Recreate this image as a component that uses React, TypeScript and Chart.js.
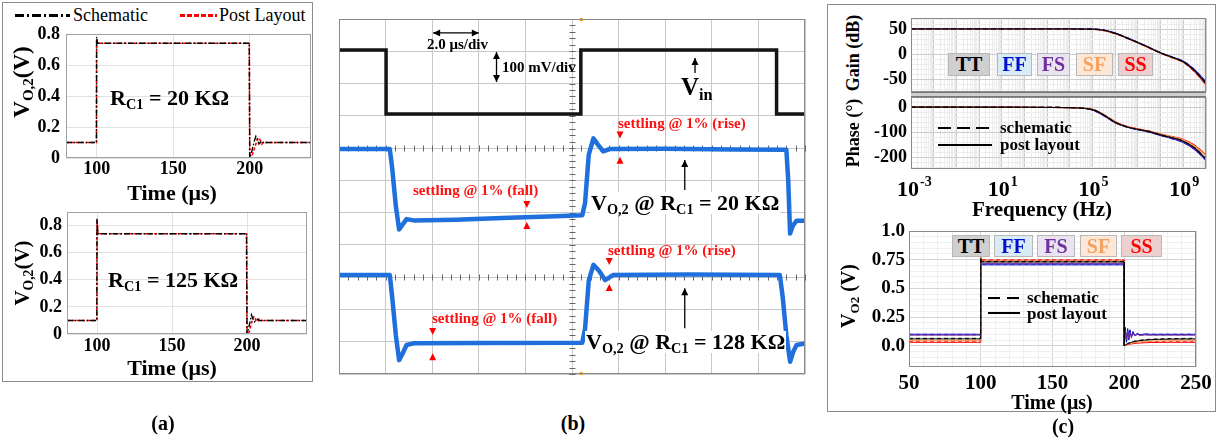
import React, { useEffect, useRef } from 'react';
import { Chart, registerables } from 'chart.js';

Chart.register(...registerables);

const SERIF = '"Liberation Serif", "Times New Roman", serif';

// ---------------- Panel (a) data ----------------
const A_TIME = [80, 99.9, 100, 100.6, 101.5, 199.7, 200, 201, 202, 203, 204, 205, 206, 207, 208, 209, 210, 212, 215, 240];
const A1_SCHEMATIC = [0.1, 0.1, 0.78, 0.74, 0.74, 0.74, 0.0, 0.03, 0.07, 0.11, 0.14, 0.12, 0.09, 0.1, 0.11, 0.1, 0.1, 0.1, 0.1, 0.1];
const A1_POSTLAYOUT = [0.1, 0.1, 0.77, 0.74, 0.74, 0.74, 0.0, 0.0, 0.03, 0.06, 0.09, 0.12, 0.13, 0.11, 0.09, 0.105, 0.1, 0.1, 0.1, 0.1];
const A2_SCHEMATIC = [0.1, 0.1, 0.85, 0.74, 0.74, 0.74, 0.0, 0.04, 0.09, 0.14, 0.11, 0.09, 0.1, 0.11, 0.1, 0.1, 0.1, 0.1, 0.1, 0.1];
const A2_POSTLAYOUT = [0.1, 0.1, 0.84, 0.74, 0.74, 0.74, 0.0, 0.0, 0.04, 0.08, 0.12, 0.13, 0.1, 0.09, 0.11, 0.1, 0.1, 0.1, 0.1, 0.1];
const A_X_TICKS = [100, 150, 200];
const A_Y_TICKS = [0, 0.2, 0.4, 0.6, 0.8];

// ---------------- Panel (b) oscilloscope data (divisions) ----------------
const VIN_X = [0, 1.01, 1.01, 5.19, 5.19, 9.39, 9.39, 10];
const VIN_Y = [10.04, 10.04, 8.06, 8.06, 10.04, 10.04, 8.06, 8.06];
const VO_20K_X = [0, 1.09, 1.14, 1.22, 1.29, 1.36, 1.45, 1.6, 2.5, 3.5, 4.5, 5.22, 5.28, 5.36, 5.46, 5.56, 5.67, 5.8, 7, 8.5, 9.6, 9.64, 9.68, 9.74, 9.82, 10];
const VO_20K_Y = [6.97, 6.97, 6.4, 5.2, 4.48, 4.62, 4.8, 4.76, 4.78, 4.83, 4.88, 4.92, 5.3, 6.8, 7.3, 7.1, 6.9, 6.97, 6.98, 6.96, 6.95, 6.0, 4.35, 4.6, 4.75, 4.75];
const VO_128K_X = [0, 1.09, 1.14, 1.22, 1.29, 1.36, 1.45, 1.6, 3, 5.22, 5.28, 5.36, 5.46, 5.58, 5.71, 5.89, 7.5, 9.46, 9.52, 9.6, 9.68, 9.75, 9.82, 10];
const VO_128K_Y = [3.07, 3.07, 2.4, 1.2, 0.43, 0.62, 0.9, 0.95, 0.96, 0.97, 1.4, 2.9, 3.38, 3.2, 2.91, 3.07, 3.08, 3.07, 2.4, 1.2, 0.38, 0.7, 0.9, 0.95];

// annotations in division coordinates
const SCOPE_ARROWS: [number, number, number, number, boolean][] = [
  [2.02, 10.57, 3.0, 10.57, true],
  [3.38, 9.98, 3.38, 9.05, true],
  [7.64, 9.33, 7.64, 9.79, false],
  [7.42, 5.7, 7.42, 6.63, false],
  [7.42, 1.42, 7.42, 2.66, false],
];
const SCOPE_MARKS: [number, number, string][] = [
  [6.03, 7.3, 'down'], [6.03, 6.73, 'up'],
  [4.03, 5.14, 'down'], [4.03, 4.71, 'up'],
  [5.8, 3.38, 'down'], [5.8, 2.79, 'up'],
  [2.01, 1.21, 'down'], [2.01, 0.64, 'up'],
];
const SCOPE_TICK_ROWS = [7, 3];

// ---------------- Panel (c) Bode data ----------------
const BODE_FREQ = [1e-3, 1e2, 1e4, 1e5, 3.2e5, 1e6, 3.2e6, 1e7, 3.2e7, 1e8, 3.2e8, 1e9, 3.2e9, 1e10];
const GAIN_TT = [50, 50, 50, 49.8, 47.5, 41.5, 32.5, 23, 13, 2.5, -6, -15, -33, -58];
const GAIN_FF = [50.5, 50.5, 50.5, 50.2, 48, 42, 33, 23.5, 13.5, 3, -5.5, -14, -31, -55];
const GAIN_FS = [50, 50, 50, 49.9, 47.8, 41.8, 33, 23.3, 13.3, 2.8, -6, -15.5, -34, -59];
const GAIN_SF = [49.8, 49.8, 49.8, 49.6, 47.3, 41.3, 32.3, 22.8, 12.8, 2.3, -6.3, -15.3, -33.5, -59];
const GAIN_SS = [49.5, 49.5, 49.5, 49.3, 47, 41, 32, 22.5, 12.5, 2, -6.8, -16, -35, -61];
const PHASE_TT = [0, -0.3, -2, -10, -32, -60, -78, -88, -97, -110, -121, -135, -162, -205];
const PHASE_FF = [0, -0.3, -2, -11, -34, -62, -79, -89, -99, -112, -125, -140, -168, -210];
const PHASE_FS = [0, -0.3, -2, -11, -33, -61, -79, -89, -98, -111, -123, -138, -166, -207];
const PHASE_SF = [0, -0.3, -2, -9, -30, -58, -77, -87, -96, -108, -118, -130, -155, -192];
const PHASE_SS = [0, -0.3, -2, -9, -30, -58, -76, -86, -95, -107, -117, -128, -152, -190];
const FREQ_LABELS = [1e-3, 1e1, 1e5, 1e9];
const FREQ_EXP = ['-3', '1', '5', '9'];
const GAIN_GRID = [-70, -60, -50, -40, -30, -20, -10, 0, 10, 20, 30, 40, 50, 60, 70];
const GAIN_LABELS = [50, 0, -50];
const PHASE_GRID = [-240, -220, -200, -180, -160, -140, -120, -100, -80, -60, -40, -20, 0, 20, 40];
const PHASE_LABELS = [0, -100, -200];

// ---------------- Panel (c) transient data ----------------
const T_C = [50, 99.9, 100, 100.4, 101, 199.9, 200, 200.8, 201.6, 202.4, 203.2, 204, 205, 206, 207.5, 209, 211, 214, 218, 224, 232, 250];
const TR_FF_POST = [0.1, 0.1, 0.74, 0.705, 0.705, 0.705, 0.0, 0.16, 0.03, 0.15, 0.05, 0.14, 0.07, 0.125, 0.085, 0.11, 0.095, 0.103, 0.1, 0.1, 0.1, 0.1];
const TR_FS_POST = [0.093, 0.093, 0.75, 0.715, 0.715, 0.715, 0.0, 0.12, 0.05, 0.13, 0.06, 0.12, 0.075, 0.11, 0.085, 0.1, 0.09, 0.094, 0.093, 0.093, 0.093, 0.093];
const TR_TT_POST = [0.06, 0.06, 0.76, 0.73, 0.73, 0.73, 0.0, 0.006, 0.012, 0.017, 0.021, 0.025, 0.029, 0.033, 0.037, 0.041, 0.045, 0.049, 0.053, 0.056, 0.058, 0.06];
const TR_SF_POST = [0.045, 0.045, 0.77, 0.738, 0.738, 0.738, 0.0, 0.005, 0.009, 0.013, 0.016, 0.019, 0.022, 0.025, 0.028, 0.031, 0.034, 0.037, 0.04, 0.042, 0.044, 0.045];
const TR_SS_POST = [0.03, 0.03, 0.78, 0.745, 0.745, 0.745, 0.0, 0.004, 0.007, 0.01, 0.012, 0.014, 0.016, 0.018, 0.02, 0.022, 0.024, 0.026, 0.028, 0.029, 0.03, 0.03];
const TR_FF_SCH = [0.1, 0.1, 0.73, 0.712, 0.712, 0.712, 0.0, 0.15, 0.04, 0.14, 0.06, 0.13, 0.08, 0.12, 0.09, 0.105, 0.097, 0.101, 0.1, 0.1, 0.1, 0.1];
const TR_FS_SCH = [0.095, 0.095, 0.745, 0.72, 0.72, 0.72, 0.0, 0.13, 0.05, 0.12, 0.07, 0.115, 0.08, 0.105, 0.09, 0.098, 0.094, 0.096, 0.095, 0.095, 0.095, 0.095];
const TR_TT_SCH = [0.065, 0.065, 0.765, 0.735, 0.735, 0.735, 0.0, 0.007, 0.014, 0.02, 0.025, 0.029, 0.033, 0.037, 0.041, 0.045, 0.049, 0.053, 0.057, 0.06, 0.063, 0.065];
const TR_SF_SCH = [0.055, 0.055, 0.77, 0.742, 0.742, 0.742, 0.0, 0.006, 0.011, 0.016, 0.02, 0.024, 0.027, 0.031, 0.035, 0.038, 0.042, 0.045, 0.049, 0.052, 0.054, 0.055];
const TR_SS_SCH = [0.04, 0.04, 0.78, 0.748, 0.748, 0.748, 0.0, 0.005, 0.009, 0.013, 0.016, 0.019, 0.021, 0.024, 0.027, 0.03, 0.032, 0.034, 0.036, 0.038, 0.039, 0.04];
const TR_X_GRID = [50, 60, 70, 80, 90, 100, 110, 120, 130, 140, 150, 160, 170, 180, 190, 200, 210, 220, 230, 240, 250];
const TR_X_LABELS = [50, 100, 150, 200, 250];
const TR_Y_GRID = [-0.15, -0.1, -0.05, 0, 0.05, 0.1, 0.15, 0.2, 0.25, 0.3, 0.35, 0.4, 0.45, 0.5, 0.55, 0.6, 0.65, 0.7, 0.75, 0.8, 0.85, 0.9, 0.95, 1.0];
const TR_Y_LABELS: [number, string][] = [[0, '0.0'], [0.25, '0.25'], [0.5, '0.5'], [0.75, '0.75'], [1.0, '1.0']];

const CORNER_COLORS: Record<string, string> = { TT: '#000000', FF: '#0010d0', FS: '#7030a0', SF: '#f4a060', SS: '#ff0000' };

// ---------------- helpers ----------------
type Box = { l: number; t: number; r: number; b: number };

function xy(xs: number[], ys: number[]) {
  return xs.map((x, i) => ({ x, y: ys[i] }));
}

function near(a: number, b: number) {
  return Math.abs(a - b) < 1e-6;
}

const framePlugin = (color: string) => ({
  id: 'frame',
  afterDraw(chart: any) {
    const { left, top, right, bottom } = chart.chartArea;
    const ctx = chart.ctx;
    ctx.save();
    ctx.strokeStyle = color;
    ctx.lineWidth = 1;
    const l = Math.round(left) + 0.5, t = Math.round(top) + 0.5;
    const r = Math.round(right) - 0.5, b = Math.round(bottom) - 0.5;
    ctx.strokeRect(l, t, r - l, b - t);
    ctx.restore();
  },
});

function makeConfig(canvas: Box, plot: Box, datasets: any[], xOpt: any, yOpt: any, plugins: any[]) {
  return {
    type: 'line',
    data: { datasets },
    options: {
      animation: false,
      responsive: false,
      devicePixelRatio: 1,
      layout: { padding: { left: 0, top: plot.t - canvas.t, right: canvas.r - plot.r, bottom: 0 } },
      plugins: { legend: { display: false }, tooltip: { enabled: false } },
      elements: { point: { radius: 0 }, line: { tension: 0 } },
      scales: {
        x: {
          ...xOpt,
          afterFit: (s: any) => { s.height = canvas.b - plot.b; s.paddingLeft = 0; s.paddingRight = 0; },
        },
        y: {
          ...yOpt,
          afterFit: (s: any) => { s.width = plot.l - canvas.l; s.paddingTop = 0; s.paddingBottom = 0; },
        },
      },
    },
    plugins,
  } as any;
}

function ChartView({ canvas, make }: { canvas: Box; make: () => any }) {
  const ref = useRef<HTMLCanvasElement>(null);
  useEffect(() => {
    const c = new Chart(ref.current as HTMLCanvasElement, make());
    return () => c.destroy();
  }, []);
  const w = canvas.r - canvas.l, h = canvas.b - canvas.t;
  return (
    <canvas ref={ref} width={w} height={h}
      style={{ position: 'absolute', left: canvas.l, top: canvas.t, width: w, height: h }} />
  );
}

function Txt({ x, y, size, children, color = '#000', weight = 'bold', anchor = 'left', bg, rotate }: any) {
  const tx = anchor === 'center' ? '-50%' : '0';
  return (
    <div style={{
      position: 'absolute', left: x, top: y,
      transform: `translate(${tx}, -50%)${rotate ? ' rotate(-90deg)' : ''}`,
      fontFamily: SERIF, fontSize: size, fontWeight: weight, color, whiteSpace: 'nowrap',
      lineHeight: 1, background: bg, padding: bg ? '0 1px' : 0,
    }}>{children}</div>
  );
}

const Sub = ({ children }: any) => (
  <span style={{ fontSize: '0.65em', position: 'relative', top: '0.3em' }}>{children}</span>
);

function PatternLine({ x, y, width, pattern, color, thick }: any) {
  const segs: any[] = [];
  let pos = 0, i = 0;
  while (pos < width) {
    const len = pattern[i % pattern.length];
    if (i % 2 === 0) {
      segs.push(<div key={i} style={{ position: 'absolute', left: x + pos, top: y - thick / 2, width: Math.min(len, width - pos), height: thick, background: color }} />);
    }
    pos += len;
    i++;
  }
  return <>{segs}</>;
}

function CornerBoxes({ y, h, boxes, size }: any) {
  const bg: Record<string, string> = { TT: '#cfcfcf', FF: '#d9ecf6', FS: '#e9e4f0', SF: '#fde7d6', SS: '#eccfcf' };
  return (
    <>
      {boxes.map(([name, l, r]: any) => (
        <div key={name} style={{
          position: 'absolute', left: l, top: y, width: r - l, height: h, boxSizing: 'border-box',
          background: bg[name], border: '1px solid #b8b8b8', display: 'flex', alignItems: 'center',
          justifyContent: 'center', fontFamily: SERIF, fontWeight: 'bold', fontSize: size,
          color: CORNER_COLORS[name],
        }}>{name}</div>
      ))}
    </>
  );
}

// ---------------- chart builders ----------------
const tickFont = (size: number) => ({ family: SERIF, weight: 'bold' as const, size });

function panelAConfig(canvas: Box, plot: Box, sch: number[], post: number[], ymax: number, xPad: number, yPad: number) {
  const datasets = [
    { data: xy(A_TIME, sch), borderColor: '#000', borderWidth: 1.4, borderDash: [6, 2, 1.5, 2] },
    { data: xy(A_TIME, post), borderColor: '#ff0000', borderWidth: 1.6, borderDash: [3, 2] },
  ];
  return makeConfig(canvas, plot, datasets,
    {
      type: 'linear', min: 80, max: 240,
      afterBuildTicks: (s: any) => { s.ticks = A_X_TICKS.map((v) => ({ value: v })); },
      ticks: { font: tickFont(18), color: '#000', padding: xPad, maxRotation: 0, autoSkip: false },
      grid: { color: '#e2e2e2', drawTicks: false }, border: { display: false },
    },
    {
      type: 'linear', min: 0, max: ymax,
      afterBuildTicks: (s: any) => { s.ticks = A_Y_TICKS.map((v) => ({ value: v })); },
      ticks: { font: tickFont(18), color: '#000', padding: yPad, autoSkip: false, callback: (v: number) => String(Math.round(v * 10) / 10) },
      grid: { color: '#e2e2e2', drawTicks: false }, border: { display: false },
    },
    [framePlugin('#a0a0a0')]);
}

function arrowHead(ctx: any, x: number, y: number, ang: number) {
  ctx.beginPath();
  ctx.moveTo(x, y);
  ctx.lineTo(x - 7 * Math.cos(ang) + 3.5 * Math.sin(ang), y - 7 * Math.sin(ang) - 3.5 * Math.cos(ang));
  ctx.lineTo(x - 7 * Math.cos(ang) - 3.5 * Math.sin(ang), y - 7 * Math.sin(ang) + 3.5 * Math.cos(ang));
  ctx.closePath();
  ctx.fill();
}

const scopePlugin = {
  id: 'scopeDecor',
  beforeDatasetsDraw(chart: any) {
    const { ctx, scales: { x, y } } = chart;
    ctx.save();
    ctx.strokeStyle = '#666';
    ctx.lineWidth = 1;
    const cx = Math.round(x.getPixelForValue(5)) + 0.5;
    for (let k = 0; k <= 55; k++) {
      const py = Math.round(y.getPixelForValue(k * 0.2)) + 0.5;
      ctx.beginPath(); ctx.moveTo(cx - 3, py); ctx.lineTo(cx + 3, py); ctx.stroke();
    }
    SCOPE_TICK_ROWS.forEach((row) => {
      const py = Math.round(y.getPixelForValue(row)) + 0.5;
      for (let k = 0; k <= 50; k++) {
        const px = Math.round(x.getPixelForValue(k * 0.2)) + 0.5;
        ctx.beginPath(); ctx.moveTo(px, py - 3); ctx.lineTo(px, py + 3); ctx.stroke();
      }
    });
    ctx.restore();
  },
  afterDatasetsDraw(chart: any) {
    const { ctx, scales: { x, y }, chartArea } = chart;
    ctx.save();
    ctx.strokeStyle = '#000';
    ctx.fillStyle = '#000';
    ctx.lineWidth = 1.3;
    SCOPE_ARROWS.forEach(([x1, y1, x2, y2, dbl]) => {
      const p1x = x.getPixelForValue(x1), p1y = y.getPixelForValue(y1);
      const p2x = x.getPixelForValue(x2), p2y = y.getPixelForValue(y2);
      ctx.beginPath(); ctx.moveTo(p1x, p1y); ctx.lineTo(p2x, p2y); ctx.stroke();
      const ang = Math.atan2(p2y - p1y, p2x - p1x);
      arrowHead(ctx, p2x, p2y, ang);
      if (dbl) arrowHead(ctx, p1x, p1y, ang + Math.PI);
    });
    ctx.fillStyle = '#ff0000';
    SCOPE_MARKS.forEach(([mx, my, dir]) => {
      const px = x.getPixelForValue(mx), py = y.getPixelForValue(my);
      const s = dir === 'down' ? -1 : 1;
      ctx.beginPath();
      ctx.moveTo(px, py);
      ctx.lineTo(px - 3.5, py + s * 7);
      ctx.lineTo(px + 3.5, py + s * 7);
      ctx.closePath();
      ctx.fill();
    });
    // trigger markers
    ctx.fillStyle = '#f0a020';
    const tx = x.getPixelForValue(5.2);
    ctx.fillRect(tx - 1.5, chartArea.top - 1, 3, 3);
    ctx.fillRect(tx - 1.5, chartArea.bottom - 2, 3, 3);
    ctx.restore();
  },
};

function scopeConfig() {
  const canvas = { l: 337, t: 17, r: 807, b: 376 };
  const plot = { l: 339, t: 19, r: 805, b: 374 };
  const datasets = [
    { data: xy(VIN_X, VIN_Y), borderColor: '#151515', borderWidth: 3.5 },
    { data: xy(VO_20K_X, VO_20K_Y), borderColor: '#1f6fdc', borderWidth: 4.5, borderJoinStyle: 'round' },
    { data: xy(VO_128K_X, VO_128K_Y), borderColor: '#1f6fdc', borderWidth: 4.5, borderJoinStyle: 'round' },
  ];
  return makeConfig(canvas, plot, datasets,
    { type: 'linear', min: 0, max: 10, ticks: { display: false, stepSize: 1 }, grid: { color: '#c8c8c8', drawTicks: false }, border: { display: false } },
    { type: 'linear', min: 0, max: 11, ticks: { display: false, stepSize: 1 }, grid: { color: '#c8c8c8', drawTicks: false }, border: { display: false } },
    [framePlugin('#8a8a8a'), scopePlugin]);
}

const LOG_GRID: number[] = [];
for (let e = -3; e <= 9; e++) for (let m = 1; m <= 9; m++) LOG_GRID.push(m * Math.pow(10, e));
LOG_GRID.push(1e10);
const isDecade = (v: number) => Math.abs(Math.log10(v) - Math.round(Math.log10(v))) < 1e-9;

function bodeX() {
  return {
    type: 'logarithmic', min: 1e-3, max: 1e10,
    afterBuildTicks: (s: any) => { s.ticks = LOG_GRID.map((v) => ({ value: v })); },
    ticks: { display: false },
    grid: { color: (c: any) => (c.tick && isDecade(c.tick.value) ? '#cdcdcd' : '#ececec'), drawTicks: false },
    border: { display: false },
  };
}

function bodeY(min: number, max: number, grid: number[], labels: number[]) {
  return {
    type: 'linear', min, max,
    afterBuildTicks: (s: any) => { s.ticks = grid.map((v) => ({ value: v })); },
    ticks: {
      font: tickFont(18), color: '#000', padding: 4, autoSkip: false,
      callback: (v: number) => (labels.some((l) => near(l, v)) ? String(v) : ''),
    },
    grid: { color: (c: any) => (c.tick && labels.some((l) => near(l, c.tick.value)) ? '#cdcdcd' : '#ececec'), drawTicks: false },
    border: { display: false },
  };
}

function bodeDatasets(series: [string, number[]][]) {
  const out: any[] = [];
  series.forEach(([name, vals]) => {
    out.push({ data: xy(BODE_FREQ, vals), borderColor: CORNER_COLORS[name], borderWidth: 1.1, borderDash: [5, 3], cubicInterpolationMode: 'monotone' });
    out.push({ data: xy(BODE_FREQ, vals), borderColor: CORNER_COLORS[name], borderWidth: 1.1, cubicInterpolationMode: 'monotone' });
  });
  return out;
}

function gainConfig() {
  const canvas = { l: 870, t: 8, r: 1210, b: 93 };
  const plot = { l: 911, t: 18, r: 1206, b: 92 };
  return makeConfig(canvas, plot,
    bodeDatasets([['TT', GAIN_TT], ['SF', GAIN_SF], ['FF', GAIN_FF], ['SS', GAIN_SS], ['FS', GAIN_FS]]),
    bodeX(), bodeY(-75, 72, GAIN_GRID, GAIN_LABELS), [framePlugin('#8a8a8a')]);
}

const freqLabelPlugin = {
  id: 'freqLabels',
  afterDraw(chart: any) {
    const { ctx, scales: { x }, chartArea } = chart;
    ctx.save();
    ctx.fillStyle = '#000';
    ctx.textBaseline = 'alphabetic';
    FREQ_LABELS.forEach((f, i) => {
      const px = x.getPixelForValue(f);
      ctx.font = `bold 22px ${SERIF}`;
      ctx.textAlign = 'right';
      ctx.fillText('10', px + 8, chartArea.bottom + 27);
      ctx.font = `bold 14px ${SERIF}`;
      ctx.textAlign = 'left';
      ctx.fillText(FREQ_EXP[i], px + 9, chartArea.bottom + 17);
    });
    ctx.restore();
  },
};

function phaseConfig() {
  const canvas = { l: 860, t: 92, r: 1216, b: 202 };
  const plot = { l: 911, t: 97, r: 1206, b: 169 };
  return makeConfig(canvas, plot,
    bodeDatasets([['TT', PHASE_TT], ['SF', PHASE_SF], ['SS', PHASE_SS], ['FS', PHASE_FS], ['FF', PHASE_FF]]),
    bodeX(), bodeY(-245, 40, PHASE_GRID, PHASE_LABELS), [framePlugin('#8a8a8a'), freqLabelPlugin]);
}

function tranConfig() {
  const canvas = { l: 860, t: 220, r: 1216, b: 400 };
  const plot = { l: 909, t: 231, r: 1196, b: 367 };
  const series: [string, number[], number[]][] = [
    ['TT', TR_TT_SCH, TR_TT_POST],
    ['SF', TR_SF_SCH, TR_SF_POST],
    ['FS', TR_FS_SCH, TR_FS_POST],
    ['FF', TR_FF_SCH, TR_FF_POST],
    ['SS', TR_SS_SCH, TR_SS_POST],
  ];
  const datasets: any[] = [];
  series.forEach(([name, sch, post]) => {
    datasets.push({ data: xy(T_C, sch), borderColor: CORNER_COLORS[name], borderWidth: 1, borderDash: [4, 3] });
    datasets.push({ data: xy(T_C, post), borderColor: CORNER_COLORS[name], borderWidth: 1 });
  });
  return makeConfig(canvas, plot, datasets,
    {
      type: 'linear', min: 50, max: 250,
      afterBuildTicks: (s: any) => { s.ticks = TR_X_GRID.map((v) => ({ value: v })); },
      ticks: { font: tickFont(21), color: '#000', padding: 4, maxRotation: 0, autoSkip: false, callback: (v: number) => (TR_X_LABELS.includes(v) ? String(v) : '') },
      grid: { color: (c: any) => (c.tick && TR_X_LABELS.includes(c.tick.value) ? '#d4d4d4' : '#efefef'), drawTicks: false },
      border: { display: false },
    },
    {
      type: 'linear', min: -0.185, max: 1.0,
      afterBuildTicks: (s: any) => { s.ticks = TR_Y_GRID.map((v) => ({ value: v })); },
      ticks: {
        font: tickFont(19), color: '#000', padding: 4, autoSkip: false,
        callback: (v: number) => { const f = TR_Y_LABELS.find(([k]) => near(k, v)); return f ? f[1] : ''; },
      },
      grid: { color: (c: any) => (c.tick && TR_Y_LABELS.some(([k]) => near(k, c.tick.value)) ? '#d4d4d4' : '#efefef'), drawTicks: false },
      border: { display: false },
    },
    [framePlugin('#8a8a8a')]);
}

// ---------------- App ----------------
export default function App() {
  const a1Canvas = { l: 14, t: 20, r: 313, b: 182 };
  const a1Plot = { l: 66, t: 34, r: 311, b: 158 };
  const a2Canvas = { l: 14, t: 200, r: 311, b: 358 };
  const a2Plot = { l: 67, t: 212, r: 307, b: 334 };

  return (
    <div style={{ position: 'fixed', left: 0, top: 0, width: 1218, height: 441, background: '#fff', overflow: 'hidden' }}>
      {/* Panel (a) */}
      <div style={{ position: 'absolute', left: 2, top: 2, width: 311, height: 380, border: '1.5px solid #8c8c8c', boxSizing: 'border-box' }} />
      <PatternLine x={15} y={15} width={55} pattern={[9, 3, 2, 3]} color="#000" thick={3} />
      <Txt x={73} y={15} size={18} weight="normal">Schematic</Txt>
      <PatternLine x={180} y={15} width={37} pattern={[5, 2]} color="#ff0000" thick={3} />
      <Txt x={219} y={15} size={18} weight="normal">Post Layout</Txt>
      <ChartView canvas={a1Canvas} make={() => panelAConfig(a1Canvas, a1Plot, A1_SCHEMATIC, A1_POSTLAYOUT, 0.8, 1, 6)} />
      <ChartView canvas={a2Canvas} make={() => panelAConfig(a2Canvas, a2Plot, A2_SCHEMATIC, A2_POSTLAYOUT, 0.9, 2, 5)} />
      <Txt x={21} y={82} size={23} anchor="center" rotate>V<Sub>O,2</Sub>(V)</Txt>
      <Txt x={22} y={273} size={21} anchor="center" rotate>V<Sub>O,2</Sub>(V)</Txt>
      <Txt x={110} y={98} size={22}>R<Sub>C1</Sub> = 20 KΩ</Txt>
      <Txt x={108} y={280} size={22}>R<Sub>C1</Sub> = 125 KΩ</Txt>
      <Txt x={172} y={193} size={22} anchor="center">Time (μs)</Txt>
      <Txt x={172} y={368} size={22} anchor="center">Time (μs)</Txt>
      <Txt x={163} y={423} size={20} anchor="center">(a)</Txt>

      {/* Panel (b) */}
      <ChartView canvas={{ l: 337, t: 17, r: 807, b: 376 }} make={scopeConfig} />
      <Txt x={427} y={44} size={15}>2.0 μs/div</Txt>
      <Txt x={502} y={67} size={15}>100 mV/div</Txt>
      <Txt x={681} y={86} size={25}>V<Sub>in</Sub></Txt>
      <Txt x={618} y={123} size={15} color="#ff1010">settling @ 1% (rise)</Txt>
      <Txt x={413} y={190} size={15} color="#ff1010">settling @ 1% (fall)</Txt>
      <Txt x={590} y={203} size={22} bg="#fff">V<Sub>O,2</Sub> @ R<Sub>C1</Sub> = 20 KΩ</Txt>
      <Txt x={608} y={250} size={15} color="#ff1010">settling @ 1% (rise)</Txt>
      <Txt x={432} y={318} size={15} color="#ff1010">settling @ 1% (fall)</Txt>
      <Txt x={585} y={342} size={22} bg="#fff">V<Sub>O,2</Sub> @ R<Sub>C1</Sub> = 128 KΩ</Txt>
      <Txt x={573} y={423} size={20} anchor="center">(b)</Txt>

      {/* Panel (c) */}
      <div style={{ position: 'absolute', left: 827, top: 4, width: 389, height: 408, border: '1.5px solid #8c8c8c', boxSizing: 'border-box' }} />
      <div style={{ position: 'absolute', left: 911, top: 92, width: 295, height: 5, background: '#cfcfcf', borderTop: '1px solid #777', borderBottom: '1px solid #777', boxSizing: 'border-box' }} />
      <ChartView canvas={{ l: 870, t: 8, r: 1210, b: 93 }} make={gainConfig} />
      <ChartView canvas={{ l: 860, t: 92, r: 1216, b: 202 }} make={phaseConfig} />
      <ChartView canvas={{ l: 860, t: 220, r: 1216, b: 400 }} make={tranConfig} />
      <CornerBoxes y={53} h={23} size={20} boxes={[['TT', 948, 990], ['FF', 997, 1032], ['FS', 1037, 1070], ['SF', 1076, 1113], ['SS', 1118, 1153]]} />
      <CornerBoxes y={235} h={22} size={20} boxes={[['TT', 952, 990], ['FF', 994, 1033], ['FS', 1037, 1075], ['SF', 1080, 1117], ['SS', 1121, 1162]]} />
      <PatternLine x={938} y={128} width={54} pattern={[13, 6]} color="#000" thick={2} />
      <Txt x={1000} y={127} size={17}>schematic</Txt>
      <PatternLine x={938} y={145} width={54} pattern={[54, 0]} color="#000" thick={2} />
      <Txt x={1000} y={144} size={17}>post layout</Txt>
      <PatternLine x={988} y={298} width={32} pattern={[12, 7]} color="#000" thick={2} />
      <Txt x={1027} y={297} size={17}>schematic</Txt>
      <PatternLine x={988} y={313} width={32} pattern={[32, 0]} color="#000" thick={2} />
      <Txt x={1027} y={313} size={17}>post layout</Txt>
      <Txt x={853} y={53} size={18} anchor="center" rotate>Gain (dB)</Txt>
      <Txt x={853} y={133} size={18} anchor="center" rotate>Phase (°)</Txt>
      <Txt x={1042} y={209} size={21} anchor="center">Frequency (Hz)</Txt>
      <Txt x={848} y={296} size={20} anchor="center" rotate>V<Sub>O2</Sub> (V)</Txt>
      <Txt x={1052} y={402} size={20} anchor="center">Time (μs)</Txt>
      <Txt x={1063} y={426} size={20} anchor="center">(c)</Txt>
    </div>
  );
}
